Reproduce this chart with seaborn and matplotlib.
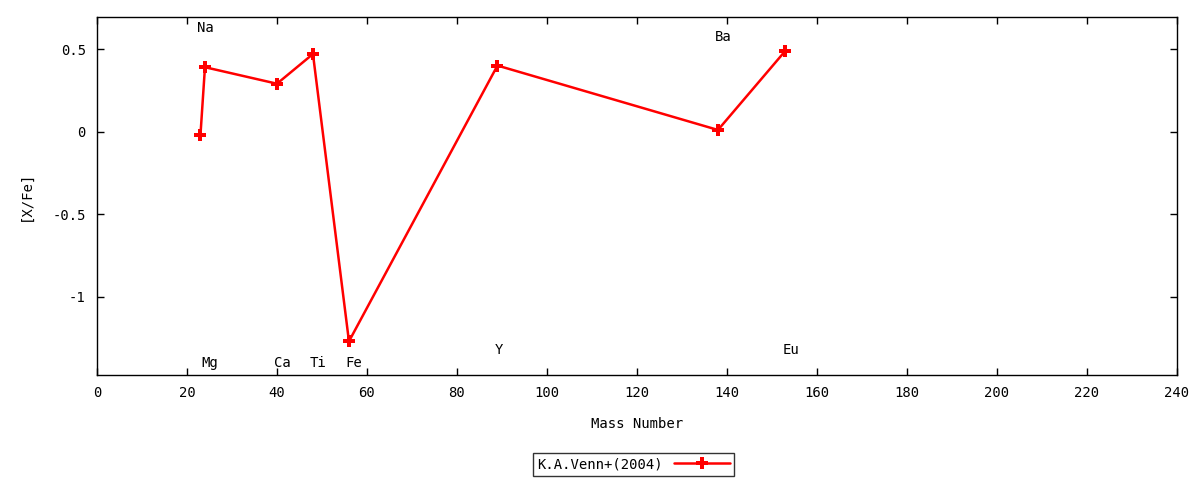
import matplotlib
matplotlib.use("Agg")
import matplotlib.pyplot as plt
import seaborn as sns
import pandas as pd

# abundance data, K.A.Venn+(2004)
elements = ["Na", "Mg", "Ca", "Ti", "Fe", "Y", "Ba", "Eu"]
mass_number = [23, 24, 40, 48, 56, 89, 138, 153]
x_fe = [-0.02, 0.39, 0.29, 0.47, -1.27, 0.40, 0.01, 0.49]
# label heights as drawn on the chart
label_y = [0.63, -1.40, -1.40, -1.40, -1.40, -1.32, 0.57, -1.32]

sns.set_theme(style="ticks")
plt.rcParams['font.family'] = ['DejaVu Sans Mono', 'DejaVu Sans']
plt.rcParams['text.color'] = 'black'
plt.rcParams['axes.labelcolor'] = 'black'
fs = 10

df = pd.DataFrame({"mass": mass_number, "xfe": x_fe, "el": elements})

fig = plt.figure(figsize=(12, 4.8), dpi=100)
ax = fig.add_axes([0.0808, 0.219, 0.9, 0.7456])

sns.lineplot(data=df, x="mass", y="xfe", ax=ax, color="red", linewidth=1.8,
             marker="P", markersize=9, markeredgewidth=0, sort=False,
             label="K.A.Venn+(2004)")

for el, m, ly in zip(elements, mass_number, label_y):
    ax.text(m - 0.7, ly, el, ha="left", va="center", fontsize=fs, color="black")

ax.set_xlim(0, 240)
ax.set_ylim(-1.473, 0.694)
ax.set_xticks(range(0, 241, 20))
ax.set_yticks([-1, -0.5, 0, 0.5])
ax.set_yticklabels(["-1", "-0.5", "0", "0.5"])
ax.tick_params(direction="in", length=5, width=1, top=True, right=True,
               labelsize=fs, pad=8, colors="black")
for s in ax.spines.values():
    s.set_linewidth(1)
    s.set_color("black")
ax.set_xlabel("Mass Number", labelpad=12, fontsize=fs)
ax.set_ylabel("[X/Fe]", labelpad=14, fontsize=fs)

leg = ax.legend(loc="center", bbox_to_anchor=(0.4968, -0.25), markerfirst=False,
                frameon=True, fancybox=False, handlelength=4, borderpad=0.3,
                handletextpad=0.8, fontsize=fs)
leg.get_frame().set_edgecolor("black")
leg.get_frame().set_linewidth(1)

fig.savefig("out.png", dpi=100)
